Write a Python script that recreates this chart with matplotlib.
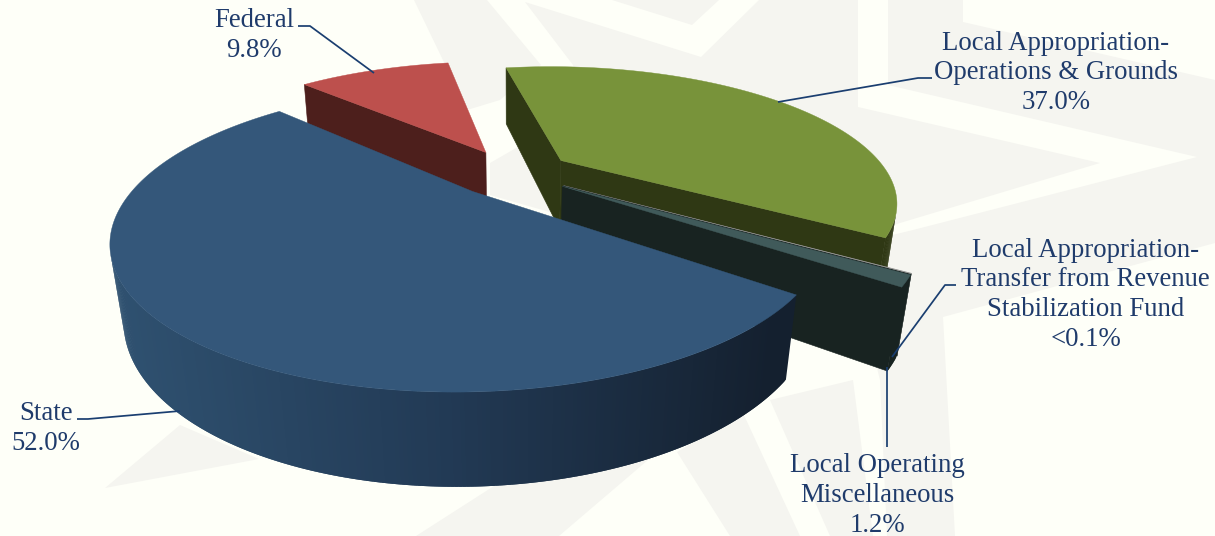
import numpy as np
import matplotlib
matplotlib.use('Agg')
import matplotlib.pyplot as plt
from matplotlib.colors import LinearSegmentedColormap

# revenue shares, clockwise from the top of the pie
categories = ['Local Appropriation-\nOperations & Grounds',
              'Local Appropriation-\nTransfer from Revenue\nStabilization Fund',
              'Local Operating\nMiscellaneous',
              'State',
              'Federal']
values = [37.0, 0.05, 1.2, 52.0, 9.8]
pct_labels = ['37.0%', '<0.1%', '1.2%', '52.0%', '9.8%']

top_colors = ['#78933A', '#9A9A98', '#405A5A', '#34577A', '#BD504D']
wall_colors = ['#2F3814', '#182321', '#182321', None, '#4D1F1C']
state_wall = LinearSegmentedColormap.from_list('state_wall', ['#2F5170', '#223A55', '#14202F'])
explode = [0.1793, 0.1764, 0.1764, 0.1839, 0.1897]

# label anchor (centre x, last baseline y) and leader polyline for each slice
label_pos = [(1056, 109), (1085.5, 346), (877, 532), (46, 450), (254, 57)]
leaders = [[(932, 78), (918, 78), (778, 102)],
           [(956, 285), (945, 285), (892, 357)],
           [(887, 367), (887, 447)],
           [(77, 419), (88, 419), (180, 411)],
           [(298, 26), (310, 26), (374, 73)]]

# pale star behind the chart
star_pieces = [[(414, 0), (487, 0), (541, 65), (500, 100), (467, 110)],
               [(612, 0), (692, 25), (719, 0)],
               [(525, 2), (701, 57), (759, 0), (858, 0), (858, 107), (1100, 163),
                (900, 223), (850, 240), (600, 150), (573, 65)],
               [(888, 0), (963, 0), (963, 22), (1215, 80), (1215, 243), (943, 317),
                (955, 536), (887, 536), (880, 380), (860, 300), (880, 238),
                (913, 230), (1197, 157), (888, 85)],
               [(490, 163), (530, 140), (560, 215), (490, 195)],
               [(105, 488), (180, 425), (259, 459)],
               [(416, 536), (508, 477), (648, 460), (559, 536)],
               [(677, 452), (743, 413), (800, 536), (730, 536)],
               [(770, 400), (853, 380), (873, 536), (830, 536)]]

# camera for the tilted pie
u0, v0, focal, dist, tilt = 513.6, 172.9, 1022, 3.126, 0.4019
start_angle = -10.34
depth = 0.2407


def project(x, y, z):
    D = dist + y*np.cos(tilt) - z*np.sin(tilt)
    return u0 + focal*x/D, v0 - focal*(y*np.sin(tilt) + z*np.cos(tilt))/D


def faces_camera(nx, ny, x, y):
    cam_y = -dist*np.cos(tilt)
    return nx*(0 - x) + ny*(cam_y - y) > 0


fig = plt.figure(figsize=(12.15, 5.36), dpi=100, facecolor='#FEFFF8')
ax = fig.add_axes([0, 0, 1, 1])
ax.set_xlim(0, 1215)
ax.set_ylim(536, 0)
ax.axis('off')

for piece in star_pieces:
    ax.fill(*zip(*piece), color='#F5F5F0', lw=0, zorder=1)

sweep = np.array(values)/sum(values)*360
edges = start_angle + np.concatenate([[0], np.cumsum(sweep)])

z = 2
for i in [4, 0, 1, 2, 3]:
    a1, a2 = np.radians(edges[i]), np.radians(edges[i+1])
    mid = (a1 + a2)/2
    ox, oy = explode[i]*np.sin(mid), explode[i]*np.cos(mid)
    n = max(int(np.degrees(a2 - a1))*2, 2)
    th = np.linspace(a1, a2, n + 1)
    xs, ys = ox + np.sin(th), oy + np.cos(th)

    # cut faces either side of the slice
    for a, nx, ny in [(a1, -np.cos(a1), np.sin(a1)), (a2, np.cos(a2), -np.sin(a2))]:
        ex, ey = ox + np.sin(a), oy + np.cos(a)
        if faces_camera(nx, ny, (ox + ex)/2, (oy + ey)/2):
            px = [ox, ex, ex, ox]
            py = [oy, ey, ey, oy]
            pz = [0, 0, -depth, -depth]
            sx, sy = project(np.array(px), np.array(py), np.array(pz))
            col = wall_colors[i] if wall_colors[i] else '#14202F'
            ax.fill(sx, sy, color=col, lw=0.4, zorder=z)

    # curved outer wall, each strip overlaps the next so no seams show
    for k in range(n):
        t = (th[k] + th[k+1])/2
        if not faces_camera(np.sin(t), np.cos(t), ox + np.sin(t), oy + np.cos(t)):
            continue
        k2 = min(k + 2, n)
        px = np.array([xs[k], xs[k2], xs[k2], xs[k]])
        py = np.array([ys[k], ys[k2], ys[k2], ys[k]])
        sx, sy = project(px, py, np.array([0, 0, -depth, -depth]))
        if wall_colors[i]:
            col = wall_colors[i]
        else:
            col = state_wall(np.clip((sx.mean() - 120)/650, 0, 1))
        ax.fill(sx, sy, color=col, lw=0, zorder=z)

    # top of the slice
    sx, sy = project(np.r_[ox, xs], np.r_[oy, ys], np.zeros(n + 2))
    ax.fill(sx, sy, color=top_colors[i], lw=0.3, zorder=z + 0.5)
    z += 1

for path in leaders:
    ax.plot(*zip(*path), color='#1A3E70', lw=1.25, zorder=20, solid_capstyle='butt')

for name, pct, pos in zip(categories, pct_labels, label_pos):
    ax.text(pos[0], pos[1], name + '\n' + pct, ha='center', va='baseline', multialignment='center',
            family='Liberation Serif', fontsize=19.3, color='#1F3B6B', linespacing=1.25, zorder=21)

fig.savefig('out.png', dpi=100, facecolor=fig.get_facecolor())
